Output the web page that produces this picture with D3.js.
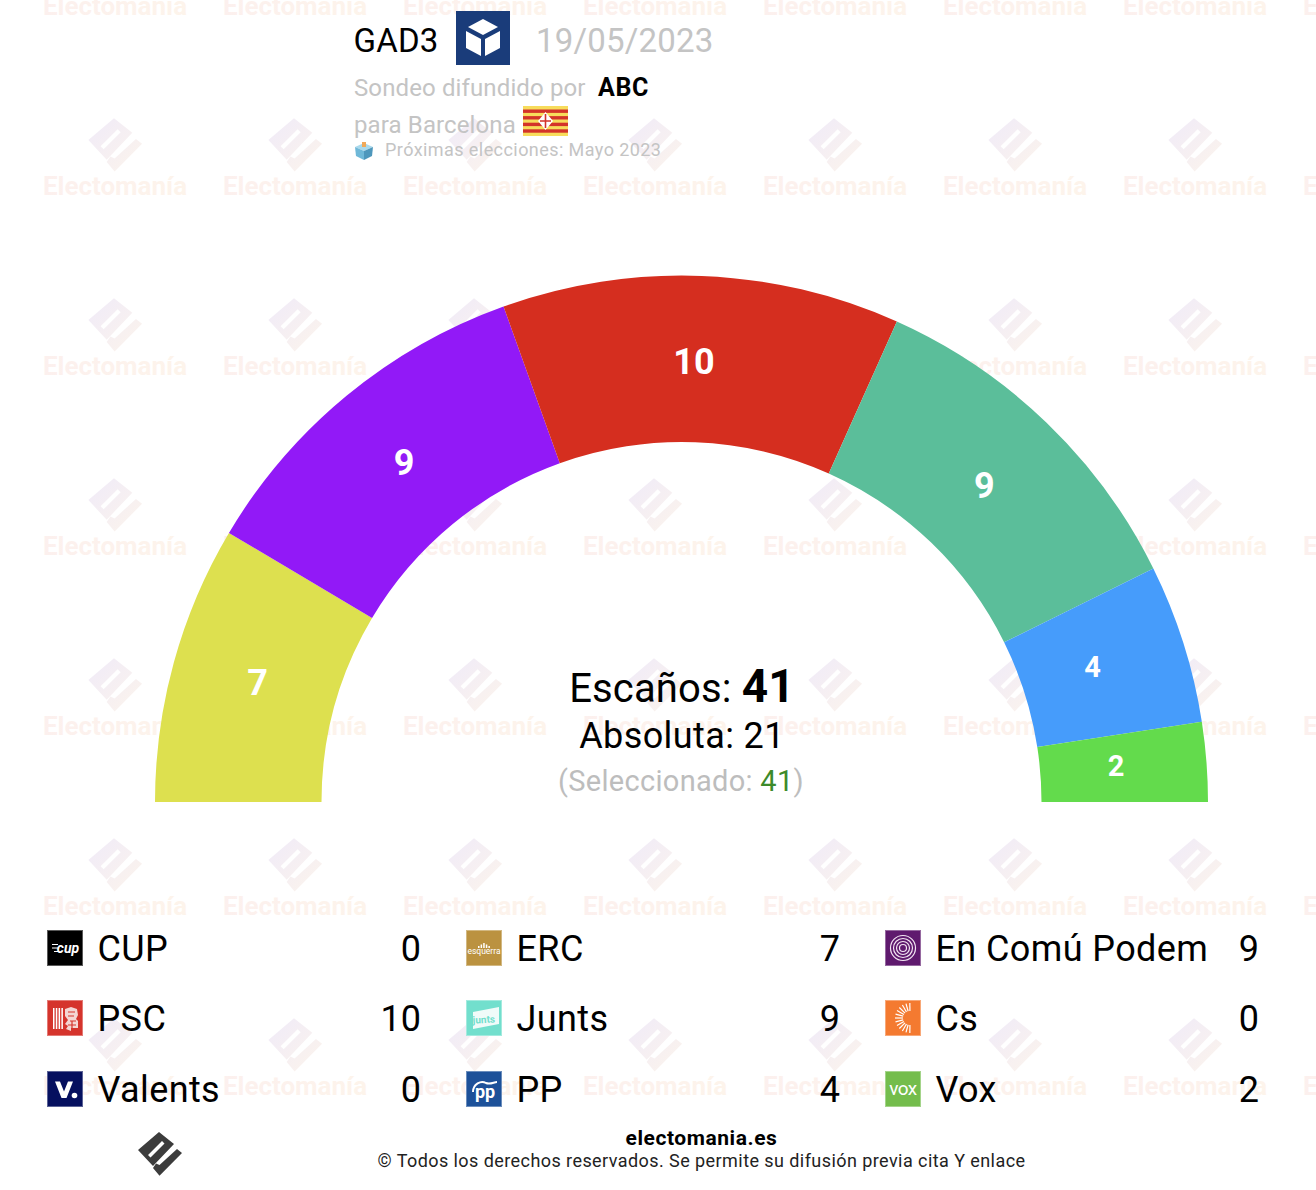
<!DOCTYPE html>
<html>
<head>
<meta charset="utf-8">
<script src="https://cdn.jsdelivr.net/npm/d3@7"></script>
<style>
html, body { margin: 0; padding: 0; background: #fff; }
svg { display: block; }
text { font-family: Roboto, sans-serif; }
</style>
</head>
<body>
<svg width="1316" height="1190"></svg>
<script>
// hemicycle, left to right
var seatParties = ['ERC', 'En Comú Podem', 'PSC', 'Junts', 'PP', 'Vox'];
var seatValues = [7, 9, 10, 9, 4, 2];
var seatColors = ['#dde04f', '#9219f7', '#d52e1f', '#5bbe9a', '#469cfb', '#63db4c'];
var seatFontSizes = [36, 36, 36, 36, 29, 29];
// the labels do not sit exactly on the centroids
var labelNudgeX = [3.5, 4.5, -4.5, -4.5, -11.5, -7.5];
var labelNudgeY = [-3, 2, 2, 2, -2, -3];

// legend, read column by column
var legendNames = ['CUP', 'PSC', 'Valents', 'ERC', 'Junts', 'PP', 'En Comú Podem', 'Cs', 'Vox'];
var legendSeats = [0, 10, 0, 7, 9, 4, 9, 0, 2];
var legendColors = ['#000000', '#d5342c', '#06105f', '#bb9240', '#72dfcd', '#1d5199', '#5f1a6e', '#f47a30', '#74bd4c'];

var totalSeats = 41;
var majority = 21;
var selected = 41;

var svg = d3.select('svg');

var defs = svg.append('defs');
var grad = defs.append('linearGradient').attr('id', 'wmGrad')
  .attr('gradientUnits', 'userSpaceOnUse')
  .attr('x1', -20).attr('y1', -20).attr('x2', 22).attr('y2', 22);
grad.append('stop').attr('offset', 0).attr('stop-color', '#f0ebf8');
grad.append('stop').attr('offset', 1).attr('stop-color', '#fcf4ec');
var gradText = defs.append('linearGradient').attr('id', 'wmText')
  .attr('gradientUnits', 'userSpaceOnUse')
  .attr('x1', -73).attr('y1', 0).attr('x2', 73).attr('y2', 0);
gradText.append('stop').attr('offset', 0).attr('stop-color', '#fcf0ee');
gradText.append('stop').attr('offset', 1).attr('stop-color', '#fdf4eb');

var LOGO_BODY = 'M0,-22 L15,-10 L-6,12 L-21,-4 Z M-11,1 L3,-13 L5.5,-10.5 L-8.5,3.5 Z';
var LOGO_CHECK = 'M-6,14 L0.5,21.7 L23,-1 L18,-5 L0.5,11 L-3,9.5 Z';

function drawLogo(g, fill) {
  g.append('path').attr('d', LOGO_BODY).attr('fill', fill).attr('fill-rule', 'evenodd');
  g.append('path').attr('d', LOGO_CHECK).attr('fill', fill);
}

// watermark tiles
var wmX = d3.range(115, 1400, 180);
var wmY = d3.range(6, 1100, 180);
wmY.forEach(function (y) {
  wmX.forEach(function (x) {
    var g = svg.append('g').attr('transform', 'translate(' + x + ',' + y + ')');
    drawLogo(g.append('g').attr('transform', 'translate(-1,-41) scale(1.22)'), 'url(#wmGrad)');
    g.append('text')
      .attr('text-anchor', 'middle')
      .attr('y', 8.5)
      .attr('font-size', 26)
      .attr('font-weight', 700)
      .attr('fill', 'url(#wmText)')
      .text('Electomanía');
  });
});

// hemicycle
var cx = 681.5, cy = 802;
var pie = d3.pie().sort(null).startAngle(-Math.PI / 2).endAngle(Math.PI / 2);
var arc = d3.arc().innerRadius(360).outerRadius(526.5);
var arcs = pie(seatValues);
var chart = svg.append('g').attr('transform', 'translate(' + cx + ',' + cy + ')');

chart.selectAll('path').data(arcs).enter().append('path')
  .attr('d', arc)
  .attr('fill', function (d, i) { return seatColors[i]; });

chart.selectAll('text').data(arcs).enter().append('text')
  .attr('transform', function (d, i) {
    var c = arc.centroid(d);
    return 'translate(' + (c[0] + labelNudgeX[i]) + ',' + (c[1] + labelNudgeY[i]) + ')';
  })
  .attr('text-anchor', 'middle')
  .attr('dy', '0.36em')
  .attr('fill', '#fff')
  .attr('font-weight', 700)
  .attr('font-size', function (d, i) { return seatFontSizes[i]; })
  .text(function (d) { return d.value; });

// centre text
var t1 = svg.append('text').attr('x', 682).attr('y', 702).attr('text-anchor', 'middle').attr('font-size', 40).attr('letter-spacing', 0.15);
t1.append('tspan').text('Escaños: ');
t1.append('tspan').attr('font-weight', 700).attr('font-size', 46).text(totalSeats);
svg.append('text').attr('x', 682).attr('y', 748).attr('text-anchor', 'middle').attr('font-size', 36).attr('letter-spacing', 0.4)
  .text('Absoluta: ' + majority);
var t3 = svg.append('text').attr('x', 681).attr('y', 791).attr('text-anchor', 'middle').attr('font-size', 29).attr('letter-spacing', 0.3).attr('fill', '#bdbdbd');
t3.append('tspan').text('(Seleccionado: ');
t3.append('tspan').attr('fill', '#3d8a2a').text(selected);
t3.append('tspan').text(')');

// header
svg.append('text').attr('x', 353.5).attr('y', 52).attr('font-size', 33).attr('letter-spacing', 0.2).text('GAD3');
svg.append('rect').attr('x', 456).attr('y', 11).attr('width', 54).attr('height', 54).attr('fill', '#1a3c7a');
svg.append('path')
  .attr('d', 'M483,19 L498,27 L483,35 L468,27 Z M466,31 L481,39 L481,56 L466,48 Z M500,31 L485,39 L485,56 L500,48 Z')
  .attr('fill', '#fff');
svg.append('text').attr('x', 536).attr('y', 52).attr('font-size', 33).attr('letter-spacing', 0.2).attr('fill', '#c4c4c4').text('19/05/2023');
svg.append('text').attr('x', 354).attr('y', 96).attr('font-size', 24).attr('letter-spacing', 0.12).attr('fill', '#c4c4c4').text('Sondeo difundido por');
svg.append('text').attr('x', 598).attr('y', 96).attr('font-size', 25).attr('letter-spacing', 0.6).attr('font-weight', 700).text('ABC');
svg.append('text').attr('x', 354).attr('y', 133).attr('font-size', 24).attr('letter-spacing', 0.12).attr('fill', '#c4c4c4').text('para Barcelona');

// flag
var flagStripes = d3.range(0, 4);
var flag = svg.append('g').attr('transform', 'translate(523,106)');
flag.append('rect').attr('width', 45).attr('height', 30).attr('fill', '#f7dc5c');
flag.selectAll('.stripe').data(flagStripes).enter().append('rect')
  .attr('class', 'stripe')
  .attr('y', function (d) { return 3.5 + d * 6.6; })
  .attr('width', 45).attr('height', 3.4).attr('fill', '#d3332a');
flag.append('path').attr('d', 'M22.5,6 L30,15 L22.5,24 L15,15 Z').attr('fill', '#fff');
flag.append('path').attr('d', 'M22.5,8 V22 M17,15 H28').attr('stroke', '#d3332a').attr('stroke-width', 1.6);

// ballot box icon
svg.append('path').attr('d', 'M355,147 L364,143 L373,147 L364,151 Z').attr('fill', '#a9d9ec');
svg.append('path').attr('d', 'M355,147 L364,151 L364,160 L356,156 Z').attr('fill', '#6fb8d8');
svg.append('path').attr('d', 'M373,147 L364,151 L364,160 L372,156 Z').attr('fill', '#4e97bc');
svg.append('rect').attr('x', 362).attr('y', 142).attr('width', 4).attr('height', 5).attr('fill', '#f0a95a');
svg.append('text').attr('x', 385).attr('y', 156).attr('font-size', 18).attr('letter-spacing', 0.43).attr('fill', '#c4c4c4').text('Próximas elecciones: Mayo 2023');

// legend
var colIconX = [47, 466, 885];
var colValueX = [421, 840, 1259];
var rowY = [930, 1000, 1071];
var legend = svg.selectAll('.legend').data(legendNames).enter().append('g')
  .attr('class', 'legend')
  .attr('transform', function (d, i) {
    return 'translate(' + colIconX[Math.floor(i / 3)] + ',' + rowY[i % 3] + ')';
  });
legend.append('rect').attr('width', 36).attr('height', 36)
  .attr('fill', function (d, i) { return legendColors[i]; });
legend.append('text').attr('x', 50.5).attr('y', 31).attr('font-size', 36).attr('letter-spacing', 0.4)
  .text(function (d) { return d; });
legend.append('text')
  .attr('x', function (d, i) { return colValueX[Math.floor(i / 3)] - colIconX[Math.floor(i / 3)]; })
  .attr('y', 31)
  .attr('text-anchor', 'end')
  .attr('font-size', 36)
  .text(function (d, i) { return legendSeats[i]; });
legend.append('rect').attr('x', 0.5).attr('y', 0.5).attr('width', 35).attr('height', 35)
  .attr('fill', 'none').attr('stroke', '#fff').attr('stroke-opacity', 0.35);

// party marks on the legend squares
function mark(col, row) {
  return svg.append('g').attr('transform', 'translate(' + colIconX[col] + ',' + rowY[row] + ')');
}
function markText(g, str, x, y, size, weight, extra) {
  var t = g.append('text').attr('x', x).attr('y', y).attr('text-anchor', 'middle')
    .attr('font-size', size).attr('font-weight', weight).attr('fill', '#fff').text(str);
  if (extra) t.attr('font-style', extra);
  return t;
}

var cup = mark(0, 0);
markText(cup, 'cup', 21, 23, 14, 700, 'italic');
cup.append('path').attr('d', 'M5,14.5 H11 M5,18 H11 M7,21.5 H11').attr('stroke', '#fff').attr('stroke-width', 1.2);

var psc = mark(0, 1);
psc.selectAll('rect').data(d3.range(0, 4)).enter().append('rect')
  .attr('x', function (d) { return 6 + d * 2.8; }).attr('y', 8).attr('width', 1.5).attr('height', 21).attr('fill', '#fff');
psc.append('path')
  .attr('d', 'M18,9 L24,7 L30,9 L31,15 L29,19 L31,21 L31,28 L24,28 L24,31 L19,29 L21,26 L18,24 L21,20 L18,16 Z')
  .attr('fill', '#f4d6d3');
psc.append('path')
  .attr('d', 'M21,12 H28 M21,16 H27 M23,21 H29 M21,25 H29 M25,21 V28')
  .attr('stroke', '#d5342c').attr('stroke-width', 1.2);

var valents = mark(0, 2);
valents.append('path').attr('d', 'M8,10.5 L13,10.5 L17,20.5 L21,10.5 L26,10.5 L19.5,27 L14.5,27 Z').attr('fill', '#fff');
valents.append('circle').attr('cx', 27.5).attr('cy', 24.5).attr('r', 2.8).attr('fill', '#fff');

var erc = mark(1, 0);
markText(erc, 'esquerra', 18, 24, 8.5, 400);
erc.selectAll('rect').data(d3.range(0, 5)).enter().append('rect')
  .attr('x', function (d) { return 12 + d * 2.6; })
  .attr('y', function (d) { return 13 + Math.abs(d - 2) * 1.5; })
  .attr('width', 1.5)
  .attr('height', function (d) { return 5 - Math.abs(d - 2) * 1.5; })
  .attr('fill', '#fff');

var junts = mark(1, 1);
junts.append('path').attr('d', 'M7,12 L33,7 L33,24 L7,29 Z').attr('fill', '#f0fbf9');
markText(junts, 'junts', 18, 23, 10, 700).attr('fill', '#72dfcd').attr('transform', 'rotate(-3 18 23)');

var pp = mark(1, 2);
markText(pp, 'pp', 19, 27, 18, 700);
pp.append('path').attr('d', 'M7,21 C7,13 15,9 20,12 C24,14 28,11 31,11').attr('fill', 'none').attr('stroke', '#fff').attr('stroke-width', 2);

var comu = mark(2, 0);
comu.selectAll('circle').data([3.5, 6.5, 9.5, 12.5]).enter().append('circle')
  .attr('cx', 18).attr('cy', 18)
  .attr('r', function (d) { return d; }).attr('fill', 'none').attr('stroke', '#f3e6f3').attr('stroke-width', 1.2);

var cs = mark(2, 1);
cs.selectAll('line').data(d3.range(-6, 7)).enter().append('line')
  .attr('x1', function (d) { return 25 - 7 * Math.cos(d * 0.26); })
  .attr('y1', function (d) { return 18 + 7 * Math.sin(d * 0.26); })
  .attr('x2', function (d) { return 25 - 15 * Math.cos(d * 0.26); })
  .attr('y2', function (d) { return 18 + 15 * Math.sin(d * 0.26); })
  .attr('stroke', '#fff').attr('stroke-width', 1.2);

var vox = mark(2, 2);
markText(vox, 'vox', 18, 24, 19, 400).attr('letter-spacing', -0.6);

// footer
drawLogo(svg.append('g').attr('transform', 'translate(159,1154)'), '#3c3c3c');
svg.append('text').attr('x', 701.5).attr('y', 1145).attr('text-anchor', 'middle').attr('font-size', 21).attr('font-weight', 700).attr('letter-spacing', 0.55).text('electomania.es');
svg.append('text').attr('x', 701.5).attr('y', 1167).attr('text-anchor', 'middle').attr('font-size', 18).attr('letter-spacing', 0.43).attr('fill', '#222').text('© Todos los derechos reservados. Se permite su difusión previa cita Y enlace');
</script>
</body>
</html>
